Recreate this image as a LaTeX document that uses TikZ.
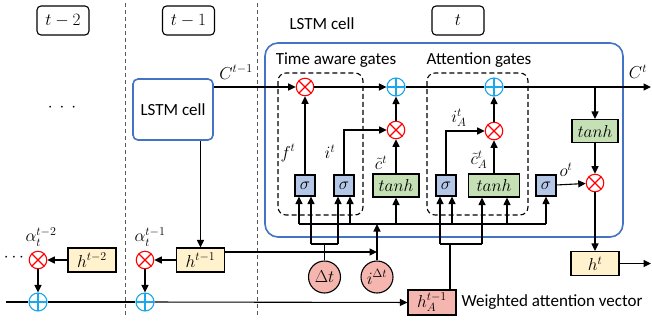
\documentclass[tikz,border=0pt]{standalone}
\usepackage{fontspec}
\setmainfont{Carlito}
\usetikzlibrary{arrows.meta}
\definecolor{cellblue}{HTML}{4472C4}
\definecolor{sigfill}{HTML}{B4C7E7}
\definecolor{tanhfill}{HTML}{C5E0B4}
\definecolor{hfill}{HTML}{FFF2CC}
\definecolor{pinkfill}{HTML}{F4B6AE}
\definecolor{pluscol}{HTML}{1AA7EC}
\tikzset{
  arr/.style={-{Triangle[length=7.5pt,width=7pt]}},
  conn/.style={line width=1.1pt},
  mulop/.style={circle, draw=red, line width=1.1pt, fill=white, minimum size=17.5pt, inner sep=0pt,
    path picture={\draw[red, line width=1.1pt] (path picture bounding box.north east) -- (path picture bounding box.south west)
      (path picture bounding box.north west) -- (path picture bounding box.south east);}},
  addop/.style={circle, draw=pluscol, line width=1.1pt, fill=white, minimum size=18pt, inner sep=0pt,
    path picture={\draw[pluscol, line width=1.1pt] (path picture bounding box.north) -- (path picture bounding box.south)
      (path picture bounding box.west) -- (path picture bounding box.east);}},
  sigbox/.style={draw, line width=1.1pt, fill=sigfill, minimum width=20pt, minimum height=21pt, inner sep=0pt},
  tanhbox/.style={draw, line width=1.1pt, fill=tanhfill, minimum width=46pt, minimum height=23pt, inner sep=0pt},
  hbox/.style={draw, line width=1.1pt, fill=hfill, minimum width=48pt, minimum height=24pt, inner sep=0pt},
  pinkbox/.style={draw, line width=1.1pt, fill=pinkfill, minimum width=48pt, minimum height=25pt, inner sep=0pt},
  pinkcirc/.style={circle, draw, line width=1.1pt, fill=pinkfill, minimum size=32pt, inner sep=0pt},
  timebox/.style={draw, line width=1.1pt, rounded corners=4pt, minimum width=52pt, minimum height=29pt, inner sep=0pt},
  sep/.style={draw=black!65, line width=1pt, dash pattern=on 4pt off 3pt},
  gategroup/.style={draw, line width=1.1pt, dash pattern=on 5pt off 3pt, rounded corners=8pt},
  lbl/.style={inner sep=0pt}
}
\begin{document}
\begin{tikzpicture}[x=1pt, y=-1pt, font=\fontsize{17}{20}\selectfont, conn]
\useasboundingbox (0,0) rectangle (652,325);

% separators
\draw[sep] (125,3) -- (125,317);
\draw[sep] (257,3) -- (257,317);

% time labels
\node[timebox] (tm2) at (63,20.5) {$t-2$};
\node[timebox] (tm1) at (188.5,20.5) {$t-1$};
\node[timebox] (tt) at (458,20.5) {$t$};

\node[lbl] (dotsA) at (62,108) {$\cdot$\hspace{7pt}$\cdot$\hspace{7pt}$\cdot$};

% previous LSTM cell
\node[draw=cellblue, line width=1.6pt, rounded corners=5pt, minimum width=80pt, minimum height=61pt, inner sep=0pt] (cellp) at (173,109.5) {LSTM cell};

% big cell
\node[draw=cellblue, line width=1.6pt, rounded corners=13pt, minimum width=358pt, minimum height=194pt, inner sep=0pt] (cell) at (444,140) {};
\node[lbl] (celllbl) at (322,24) {LSTM cell};
\node[lbl] (talbl) at (336,60) {Time aware gates};
\node[lbl] (atlbl) at (479,60) {Attention gates};

% gate groups
\draw[gategroup] (278,73) rectangle (363,215);
\draw[gategroup] (427,73) rectangle (528,215);

% operators
\node[mulop] (mf) at (305,87) {};
\node[addop] (a1) at (396,87) {};
\node[mulop] (mi) at (396,130) {};
\node[addop] (a2) at (494,87) {};
\node[mulop] (mA) at (494,131) {};
\node[mulop] (mo) at (595,183) {};

% gates
\node[sigbox] (s1) at (305,185.5) {$\sigma$};
\node[sigbox] (s2) at (344,185.5) {$\sigma$};
\node[tanhbox] (t1) at (396,185.5) {$tanh$};
\node[sigbox] (s3) at (446,185.5) {$\sigma$};
\node[tanhbox, minimum width=51pt] (t2) at (494,185.5) {$tanh$};
\node[sigbox] (s4) at (546,185.5) {$\sigma$};
\node[tanhbox] (t3) at (595,131) {$tanh$};
\node[hbox] (ht) at (595,263.5) {$h^t$};

% cell state line
\draw[arr] (cellp.east |- mf) -- (mf);
\draw[arr] (mf) -- (a1);
\draw (a1) -- (a2);
\coordinate (cout) at (651,87);
\draw[arr] (a2) -- (cout);
\node[lbl] at (236,72) {$C^{t-1}$};
\node[lbl] at (638,72) {$C^{t}$};

% output part
\draw[arr] (t3 |- a2) -- (t3);
\draw[arr] (t3) -- (mo);
\draw[arr] (s4) -- (mo);
\node[lbl] at (566,170) {$o^{t}$};
\draw[arr] (mo) -- (ht);
\coordinate (hout) at (651,263.5);
\draw[arr] (ht) -- (hout);

% gate outputs
\draw[arr] (s1) -- (mf);
\draw[arr] (s2) |- (mi);
\draw[arr] (t1) -- (mi);
\draw[arr] (mi) -- (a1);
\draw[arr] (s3) |- (mA);
\draw[arr] (t2) -- (mA);
\draw[arr] (mA) -- (a2);
\node[lbl] at (288,153) {$f^{t}$};
\node[lbl] at (330,152) {$i^{t}$};
\node[lbl] at (381,163) {$\tilde{c}^{t}$};
\node[lbl] at (459,118) {$i_A^{t}$};
\node[lbl] at (479,160) {$\tilde{c}_A^{t}$};

% input coordinates
\coordinate (s1a) at ([xshift=-6pt]s1.south);
\coordinate (s1b) at ([xshift=6pt]s1.south);
\coordinate (s2a) at ([xshift=-6pt]s2.south);
\coordinate (s2b) at ([xshift=6pt]s2.south);
\coordinate (s3a) at ([xshift=-6pt]s3.south);
\coordinate (s3b) at ([xshift=6pt]s3.south);
\coordinate (t2a) at ([xshift=-12pt]t2.south);
\coordinate (t2b) at ([xshift=13pt]t2.south);
\coordinate (busL) at (299,224);
\coordinate (join) at (0,244);

% bus
\draw (s1a |- busL) -- (s4.south |- busL);
\draw[arr] (s1a |- busL) -- (s1a);
\draw[arr] (s2b |- busL) -- (s2b);
\draw[arr] (t1.south |- busL) -- (t1.south);
\draw[arr] (s3b |- busL) -- (s3b);
\draw[arr] (t2b |- busL) -- (t2b);
\draw[arr] (s4.south |- busL) -- (s4.south);

% delta t group
\draw[arr] (s1b |- join) -- (s1b);
\draw[arr] (s2a |- join) -- (s2a);
\draw (s1b |- join) -- (s2a |- join);
\node[pinkcirc] (dt) at (324.5,277) {$\Delta t$};
\draw (dt) -- (dt |- join);

% attention group
\draw[arr] (s3a |- join) -- (s3a);
\draw[arr] (t2a |- join) -- (t2a);
\draw (s3a |- join) -- (t2a |- join);
\node[pinkbox] (hA) at (432,302.5) {$h_A^{t-1}$};
\coordinate (hAn) at ([xshift=18pt]hA.north);
\draw (hAn) -- (hAn |- join);
\node[lbl, anchor=west] (wav) at (461,302) {Weighted attention vector};

% i delta t
\node[pinkcirc] (idt) at (377,277) {$i^{\Delta t}$};
\draw[arr] (idt) -- (idt |- busL);

% left part
\node[hbox] (htm2) at (92,260) {$h^{t-2}$};
\node[hbox] (htm1) at (200.5,260) {$h^{t-1}$};
\node[mulop] (ma) at (38,260) {};
\node[addop] (pa) at (38,302) {};
\node[mulop] (mb) at (145,260) {};
\node[addop] (pb) at (145,302) {};
\draw[arr] (htm2) -- (ma);
\draw[arr] (ma) -- (pa);
\draw[arr] (htm1) -- (mb);
\draw[arr] (mb) -- (pb);
\draw[arr] (htm1 |- cellp.south) -- (htm1);
\coordinate (hq) at ([yshift=8pt]htm1.east);
\draw[arr] (hq) -- (hq -| idt);
\coordinate (bl) at (6,302);
\draw (bl) -- (pa);
\draw (pa) -- (pb);
\draw[arr] (pb) -- (hA);
\node[lbl] at (41,237) {$\alpha_t^{t-2}$};
\node[lbl] at (150,237) {$\alpha_t^{t-1}$};
\node[lbl] (dotsB) at (14,258) {$\cdots$};
\end{tikzpicture}
\end{document}
